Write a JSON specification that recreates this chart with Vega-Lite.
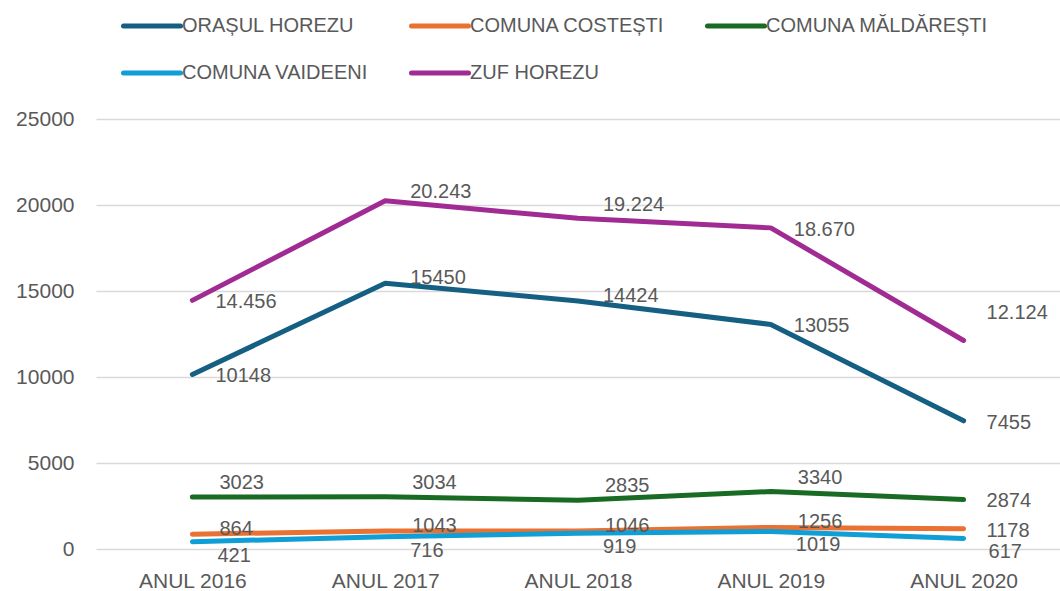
{
  "$schema": "https://vega.github.io/schema/vega-lite/v6.json",
  "autosize": "none",
  "width": 964,
  "height": 430,
  "padding": {"left": 96, "top": 119, "right": 0, "bottom": 42},
  "background": "white",
  "config": {
    "locale": {"number": {"decimal": ",", "thousands": ".", "grouping": [3], "currency": ["", ""]}},
    "view": {"stroke": null},
    "font": "Liberation Sans",
    "text": {"font": "Liberation Sans", "fontSize": 20, "color": "#595959"}
  },
  "data": {"values": [
    {"serie": "ORAȘUL HOREZU", "an": "ANUL 2016", "v": 10148},
    {"serie": "ORAȘUL HOREZU", "an": "ANUL 2017", "v": 15450},
    {"serie": "ORAȘUL HOREZU", "an": "ANUL 2018", "v": 14424},
    {"serie": "ORAȘUL HOREZU", "an": "ANUL 2019", "v": 13055},
    {"serie": "ORAȘUL HOREZU", "an": "ANUL 2020", "v": 7455},
    {"serie": "COMUNA COSTEȘTI", "an": "ANUL 2016", "v": 864},
    {"serie": "COMUNA COSTEȘTI", "an": "ANUL 2017", "v": 1043},
    {"serie": "COMUNA COSTEȘTI", "an": "ANUL 2018", "v": 1046},
    {"serie": "COMUNA COSTEȘTI", "an": "ANUL 2019", "v": 1256},
    {"serie": "COMUNA COSTEȘTI", "an": "ANUL 2020", "v": 1178},
    {"serie": "COMUNA MĂLDĂREȘTI", "an": "ANUL 2016", "v": 3023},
    {"serie": "COMUNA MĂLDĂREȘTI", "an": "ANUL 2017", "v": 3034},
    {"serie": "COMUNA MĂLDĂREȘTI", "an": "ANUL 2018", "v": 2835},
    {"serie": "COMUNA MĂLDĂREȘTI", "an": "ANUL 2019", "v": 3340},
    {"serie": "COMUNA MĂLDĂREȘTI", "an": "ANUL 2020", "v": 2874},
    {"serie": "COMUNA VAIDEENI", "an": "ANUL 2016", "v": 421},
    {"serie": "COMUNA VAIDEENI", "an": "ANUL 2017", "v": 716},
    {"serie": "COMUNA VAIDEENI", "an": "ANUL 2018", "v": 919},
    {"serie": "COMUNA VAIDEENI", "an": "ANUL 2019", "v": 1019},
    {"serie": "COMUNA VAIDEENI", "an": "ANUL 2020", "v": 617},
    {"serie": "ZUF HOREZU", "an": "ANUL 2016", "v": 14456},
    {"serie": "ZUF HOREZU", "an": "ANUL 2017", "v": 20243},
    {"serie": "ZUF HOREZU", "an": "ANUL 2018", "v": 19224},
    {"serie": "ZUF HOREZU", "an": "ANUL 2019", "v": 18670},
    {"serie": "ZUF HOREZU", "an": "ANUL 2020", "v": 12124}
  ]},
  "encoding": {
    "x": {"field": "an", "type": "ordinal", "scale": {"type": "point", "padding": 0.5},
      "axis": {"title": null, "labelAngle": 0, "domain": false, "ticks": false, "grid": false,
        "labelFont": "Liberation Sans", "labelFontSize": 21, "labelColor": "#595959", "labelPadding": 21}},
    "y": {"field": "v", "type": "quantitative", "scale": {"domain": [0, 25000]},
      "axis": {"title": null, "values": [0, 5000, 10000, 15000, 20000, 25000], "format": "d",
        "domain": false, "ticks": false, "grid": true, "gridColor": "#d9d9d9", "gridWidth": 1.5,
        "labelFont": "Liberation Sans", "labelFontSize": 21, "labelColor": "#595959", "labelPadding": 22}}
  },
  "layer": [
    {
      "mark": {"type": "line", "strokeWidth": 5, "strokeCap": "round", "strokeJoin": "round"},
      "encoding": {
        "color": {"field": "serie", "type": "nominal",
          "scale": {"domain": ["ORAȘUL HOREZU", "COMUNA COSTEȘTI", "COMUNA MĂLDĂREȘTI", "COMUNA VAIDEENI", "ZUF HOREZU"],
            "range": ["#156082", "#E97132", "#196B24", "#0F9ED5", "#A02B93"]},
          "legend": {"title": null, "orient": "none", "legendX": 25, "legendY": -124, "direction": "horizontal", "columns": 3,
            "symbolType": "stroke", "symbolSize": 3249, "symbolStrokeWidth": 5, "labelFont": "Liberation Sans",
            "labelFontSize": 20, "labelColor": "#595959", "labelOffset": -1, "labelLimit": 0, "columnPadding": 32, "rowPadding": 6,
            "encode": {"symbols": {"update": {"strokeCap": {"value": "round"}}}}}}
      }
    },
    {
      "transform": [{"filter": "datum.serie === 'ORAȘUL HOREZU' && (datum.an === 'ANUL 2017' || datum.an === 'ANUL 2018')"}],
      "mark": {"type": "text", "align": "left", "baseline": "middle", "dx": 25, "dy": -5},
      "encoding": {"text": {"field": "v", "type": "quantitative", "format": "d"}}
    },
    {
      "transform": [{"filter": "datum.serie === 'ORAȘUL HOREZU' && datum.an !== 'ANUL 2017' && datum.an !== 'ANUL 2018'"}],
      "mark": {"type": "text", "align": "left", "baseline": "middle", "dx": 23, "dy": 2},
      "encoding": {"text": {"field": "v", "type": "quantitative", "format": "d"}}
    },
    {
      "transform": [{"filter": "datum.serie === 'ZUF HOREZU' && (datum.an === 'ANUL 2016' || datum.an === 'ANUL 2019')"}],
      "mark": {"type": "text", "align": "left", "baseline": "middle", "dx": 23, "dy": 2},
      "encoding": {"text": {"field": "v", "type": "quantitative", "format": ",d"}}
    },
    {
      "transform": [{"filter": "datum.serie === 'ZUF HOREZU' && datum.an === 'ANUL 2017'"}],
      "mark": {"type": "text", "align": "left", "baseline": "middle", "dx": 25, "dy": -9},
      "encoding": {"text": {"field": "v", "type": "quantitative", "format": ",d"}}
    },
    {
      "transform": [{"filter": "datum.serie === 'ZUF HOREZU' && datum.an === 'ANUL 2018'"}],
      "mark": {"type": "text", "align": "left", "baseline": "middle", "dx": 25, "dy": -13},
      "encoding": {"text": {"field": "v", "type": "quantitative", "format": ",d"}}
    },
    {
      "transform": [{"filter": "datum.serie === 'ZUF HOREZU' && datum.an === 'ANUL 2020'"}],
      "mark": {"type": "text", "align": "left", "baseline": "middle", "dx": 23, "dy": -27},
      "encoding": {"text": {"field": "v", "type": "quantitative", "format": ",d"}}
    },
    {
      "transform": [{"filter": "datum.serie === 'COMUNA MĂLDĂREȘTI' && datum.an !== 'ANUL 2020'"}],
      "mark": {"type": "text", "align": "left", "baseline": "middle", "dx": 27, "dy": -14},
      "encoding": {"text": {"field": "v", "type": "quantitative", "format": "d"}}
    },
    {
      "transform": [{"filter": "datum.serie === 'COMUNA MĂLDĂREȘTI' && datum.an === 'ANUL 2020'"}],
      "mark": {"type": "text", "align": "left", "baseline": "middle", "dx": 23, "dy": 1},
      "encoding": {"text": {"field": "v", "type": "quantitative", "format": "d"}}
    },
    {
      "transform": [{"filter": "datum.serie === 'COMUNA COSTEȘTI' && datum.an !== 'ANUL 2020'"}],
      "mark": {"type": "text", "align": "left", "baseline": "middle", "dx": 27, "dy": -5},
      "encoding": {"text": {"field": "v", "type": "quantitative", "format": "d"}}
    },
    {
      "transform": [{"filter": "datum.serie === 'COMUNA COSTEȘTI' && datum.an === 'ANUL 2020'"}],
      "mark": {"type": "text", "align": "left", "baseline": "middle", "dx": 23, "dy": 2},
      "encoding": {"text": {"field": "v", "type": "quantitative", "format": "d"}}
    },
    {
      "transform": [{"filter": "datum.serie === 'COMUNA VAIDEENI'"}],
      "mark": {"type": "text", "align": "left", "baseline": "middle", "dx": 25, "dy": 14},
      "encoding": {"text": {"field": "v", "type": "quantitative", "format": "d"}}
    }
  ]
}
